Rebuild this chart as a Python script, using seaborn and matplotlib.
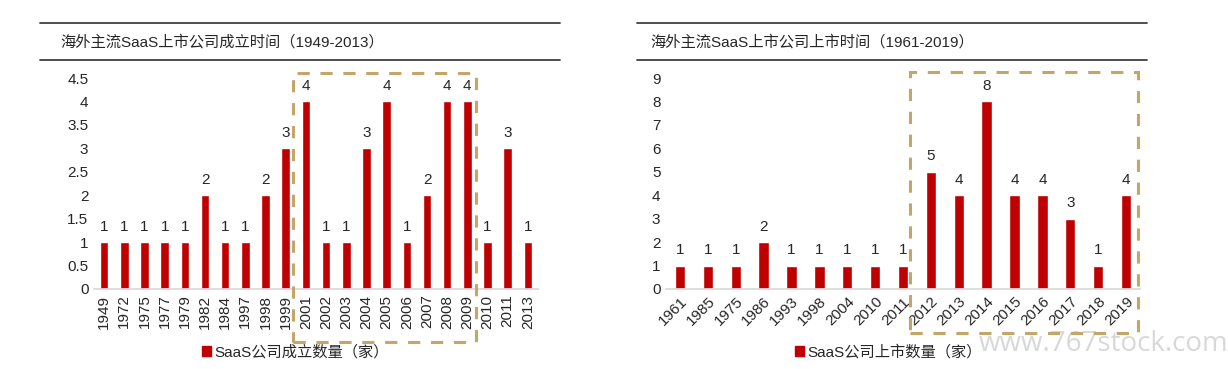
import matplotlib
matplotlib.use("Agg")
import matplotlib.pyplot as plt
import seaborn as sns
from matplotlib.lines import Line2D
from matplotlib.patches import Rectangle, Patch

# data
found_years = ["1949", "1972", "1975", "1977", "1979", "1982", "1984", "1997", "1998", "1999",
               "2001", "2002", "2003", "2004", "2005", "2006", "2007", "2008", "2009", "2010",
               "2011", "2013"]
found_counts = [1, 1, 1, 1, 1, 2, 1, 1, 2, 3, 4, 1, 1, 3, 4, 1, 2, 4, 4, 1, 3, 1]
ipo_years = ["1961", "1985", "1975", "1986", "1993", "1998", "2004", "2010", "2011",
             "2012", "2013", "2014", "2015", "2016", "2017", "2018", "2019"]
ipo_counts = [1, 1, 1, 2, 1, 1, 1, 1, 1, 5, 4, 8, 4, 4, 3, 1, 4]

left_title = "海外主流SaaS上市公司成立时间（1949-2013）"
right_title = "海外主流SaaS上市公司上市时间（1961-2019）"
left_legend = "SaaS公司成立数量（家）"
right_legend = "SaaS公司上市数量（家）"

BAR = "#C00000"
BOX = "#C4A56A"
W, H = 1228, 369

sns.set_theme(style="white")
plt.rcParams['font.family'] = ['Liberation Sans', 'Noto Sans CJK SC', 'DejaVu Sans']

fig = plt.figure(figsize=(W / 100, H / 100), dpi=100)


def px(x0, y0, x1, y1):
    # pixel box (top-left origin) -> figure fraction rect
    return [x0 / W, (H - y1) / H, (x1 - x0) / W, (y1 - y0) / H]


def hline(x0, x1, y):
    fig.add_artist(Line2D([x0 / W, x1 / W], [(H - y) / H] * 2, color="#404040", lw=1.3))


def box(x0, y0, x1, y1):
    fig.add_artist(Rectangle((x0 / W, (H - y1) / H), (x1 - x0) / W, (y1 - y0) / H,
                             transform=fig.transFigure, fill=False, ec=BOX, lw=2.2,
                             ls=(0, (4, 3.5)), zorder=5))


def panel(rect, cats, vals, ymax, ystep, width, rot, title, tx, ly, legend, lx):
    ax = fig.add_axes(px(*rect))
    sns.barplot(x=cats, y=vals, color=BAR, width=width, ax=ax, saturation=1)
    ax.set_ylim(0, ymax)
    ticks = [i * ystep for i in range(int(round(ymax / ystep)) + 1)]
    ax.set_yticks(ticks)
    ax.set_yticklabels([f"{t:g}" for t in ticks], fontsize=11)
    ax.tick_params(axis="both", length=0, pad=4)
    ax.set_xticks(range(len(cats)))
    if rot == 90:
        ax.set_xticklabels(cats, rotation=90, fontsize=11)
    else:
        ax.set_xticklabels(cats, rotation=45, ha="right", rotation_mode="anchor", fontsize=11)
    for s in ["top", "right", "left"]:
        ax.spines[s].set_visible(False)
    ax.spines["bottom"].set_color("#D9D9D9")
    ax.set_xlabel("")
    ax.set_ylabel("")
    ax.bar_label(ax.containers[0], fmt="%g", padding=6, fontsize=11)
    fig.text(tx / W, (H - 42) / H, title, fontsize=11, va="center", ha="left")
    ax.legend(handles=[Patch(color=BAR)], labels=[legend], frameon=False, fontsize=11,
              handlelength=0.6, handleheight=0.6, handletextpad=0.2,
              loc="center", bbox_to_anchor=(lx / W, (H - ly) / H),
              bbox_transform=fig.transFigure)
    return ax


panel((94, 78, 538, 289), found_years, found_counts, 4.5, 0.5, 0.42, 90,
      left_title, 60, 352, left_legend, 295)
panel((666, 78, 1140, 289), ipo_years, ipo_counts, 9, 1, 0.37, 45,
      right_title, 650, 352, right_legend, 888)

hline(40, 560, 22.5)
hline(40, 560, 60)
hline(637, 1147, 22.5)
hline(637, 1147, 60)

box(293, 73, 476, 342)
box(910, 72, 1138, 333)

fig.text(1228 / W, (H - 344) / H, "www.767stock.com", fontsize=20, color="#C8C8C8",
         ha="right", va="center", family=["Open Sans", "DejaVu Sans"], alpha=0.7)

fig.savefig("out.png", dpi=100)
